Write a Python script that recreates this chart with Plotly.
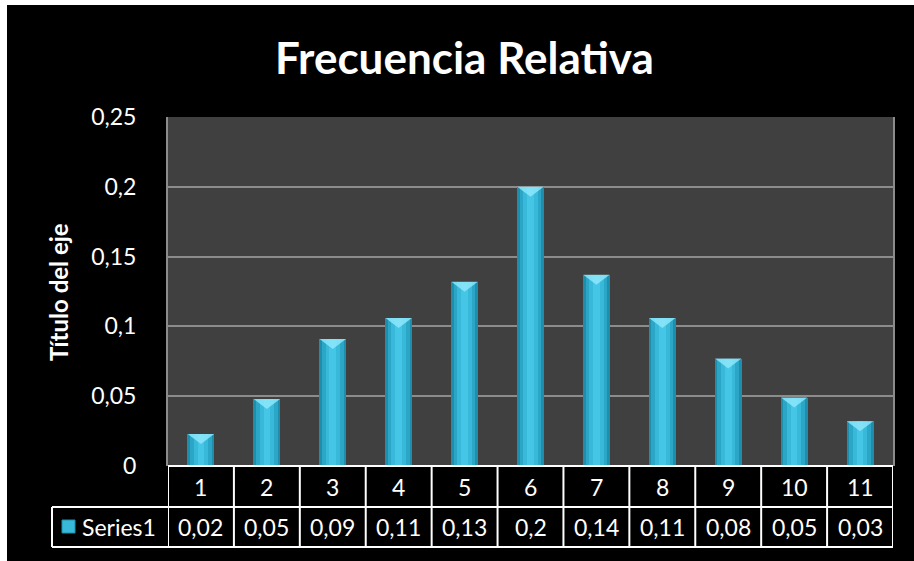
import plotly.graph_objects as go

# ---- data ----
categories = [1, 2, 3, 4, 5, 6, 7, 8, 9, 10, 11]
values = [0.023, 0.048, 0.091, 0.106, 0.132, 0.2, 0.137, 0.106, 0.077, 0.049, 0.032]
value_labels = ["0,02", "0,05", "0,09", "0,11", "0,13", "0,2", "0,14", "0,11", "0,08", "0,05", "0,03"]
y_ticks = [0, 0.05, 0.1, 0.15, 0.2, 0.25]
y_tick_labels = ["0", "0,05", "0,1", "0,15", "0,2", "0,25"]
series_name = "Series1"
chart_title = "Frecuencia Relativa"
y_title = "Título del eje"

# ---- layout geometry (pixels) ----
W_FIG, H_FIG = 914, 561
L, R, T, B = 168, 893, 117, 466
PW, PH = R - L, B - T
FONT = "Lato"
FS = 23


def px(x):
    return (x - L) / PW


def py(y):
    return (B - y) / PH


fig = go.Figure()

# fake gradient: stacked overlay bars of decreasing width
bar_layers = [(0.41, "#1f8eac"), (0.33, "#2ba6c6"), (0.22, "#38b9da"), (0.1, "#45c6e6")]
for w, c in bar_layers:
    fig.add_trace(go.Bar(x=categories, y=values, width=w, marker=dict(color=c, line=dict(width=0)),
                         showlegend=False, hoverinfo="skip"))

# bevel triangles at the top of each bar
tx, ty = [], []
dy = 10 / PH * 0.25
for c, v in zip(categories, values):
    tx += [c - 0.2, c + 0.2, c, c - 0.2, None]
    ty += [v, v, v - dy, v, None]
fig.add_trace(go.Scatter(x=tx, y=ty, fill="toself", mode="lines", line=dict(width=0),
                         fillcolor="rgba(140,230,250,0.85)", showlegend=False, hoverinfo="skip"))

shapes = []
annotations = []
white = "#ffffff"
lw = 2

# white strips (top/left edge of the picture)
shapes.append(dict(type="rect", xref="paper", yref="paper", x0=px(-5), x1=px(7), y0=py(-5), y1=py(H_FIG + 5),
                   fillcolor=white, line=dict(width=0), layer="above"))
shapes.append(dict(type="rect", xref="paper", yref="paper", x0=px(-5), x1=px(W_FIG + 5), y0=py(-5), y1=py(5),
                   fillcolor=white, line=dict(width=0), layer="above"))

# data table lines
row1_top, row1_bot, row2_bot = B, 507, 547
for yv in [row1_top, row1_bot, row2_bot]:
    x0 = px(L) if yv == row1_top else px(52)
    shapes.append(dict(type="line", xref="paper", yref="paper", x0=x0, x1=px(R), y0=py(yv), y1=py(yv),
                       line=dict(color=white, width=lw)))
shapes.append(dict(type="line", xref="paper", yref="paper", x0=px(52), x1=px(52), y0=py(row1_bot), y1=py(row2_bot),
                   line=dict(color=white, width=lw)))
bounds = [c - 0.5 for c in categories] + [categories[-1] + 0.5]
for b in bounds:
    shapes.append(dict(type="line", xref="x", yref="paper", x0=b, x1=b, y0=py(row1_top), y1=py(row2_bot),
                       line=dict(color=white, width=lw)))

for c, lab in zip(categories, value_labels):
    annotations.append(dict(x=c, y=py((row1_top + row1_bot) / 2), xref="x", yref="paper", text=str(c),
                            xanchor="center", yanchor="middle",
                            showarrow=False, font=dict(color=white, size=FS, family=FONT)))
    annotations.append(dict(x=c, y=py((row1_bot + row2_bot) / 2), xref="x", yref="paper", text=lab,
                            xanchor="center", yanchor="middle",
                            showarrow=False, font=dict(color=white, size=FS, family=FONT)))

# legend key + name
shapes.append(dict(type="rect", xref="paper", yref="paper", x0=px(62), x1=px(75), y0=py(533), y1=py(520),
                   fillcolor="#38b9da", line=dict(color="#1f8eac", width=1)))
annotations.append(dict(x=px(80), y=py(527), xref="paper", yref="paper", text=series_name,
                        xanchor="left", yanchor="middle",
                        showarrow=False, font=dict(color=white, size=FS, family=FONT)))

# title and axis title
annotations.append(dict(x=px(464), y=py(57), xref="paper", yref="paper", text="<b>" + chart_title + "</b>",
                        xanchor="center", yanchor="middle",
                        showarrow=False, font=dict(color=white, size=44, family=FONT)))
annotations.append(dict(x=px(58), y=py(292), xref="paper", yref="paper", text="<b>" + y_title + "</b>",
                        xanchor="center", yanchor="middle",
                        textangle=-90, showarrow=False, font=dict(color=white, size=24, family=FONT)))

fig.update_layout(
    width=W_FIG, height=H_FIG,
    margin=dict(l=L, r=W_FIG - R, t=T, b=H_FIG - B, pad=0),
    paper_bgcolor="#000000", plot_bgcolor="#404040",
    barmode="overlay", bargap=0,
    shapes=shapes, annotations=annotations,
    showlegend=False,
    xaxis=dict(range=[0.5, 11.5], showticklabels=False, showgrid=False, zeroline=False, ticks="",
               showline=False, fixedrange=True),
    yaxis=dict(range=[0, 0.25], tickvals=y_ticks, ticktext=y_tick_labels, showgrid=True,
               gridcolor="#8c8c8c", gridwidth=2, zeroline=False, showline=True, linecolor="#8c8c8c",
               linewidth=2, mirror=True, ticks="outside", ticklen=25, tickcolor="rgba(0,0,0,0)",
               tickfont=dict(color=white, size=FS, family=FONT), fixedrange=True),
)

fig.write_html("out.html", config={"displayModeBar": False},
               post_script="document.body.style.margin='0';")
